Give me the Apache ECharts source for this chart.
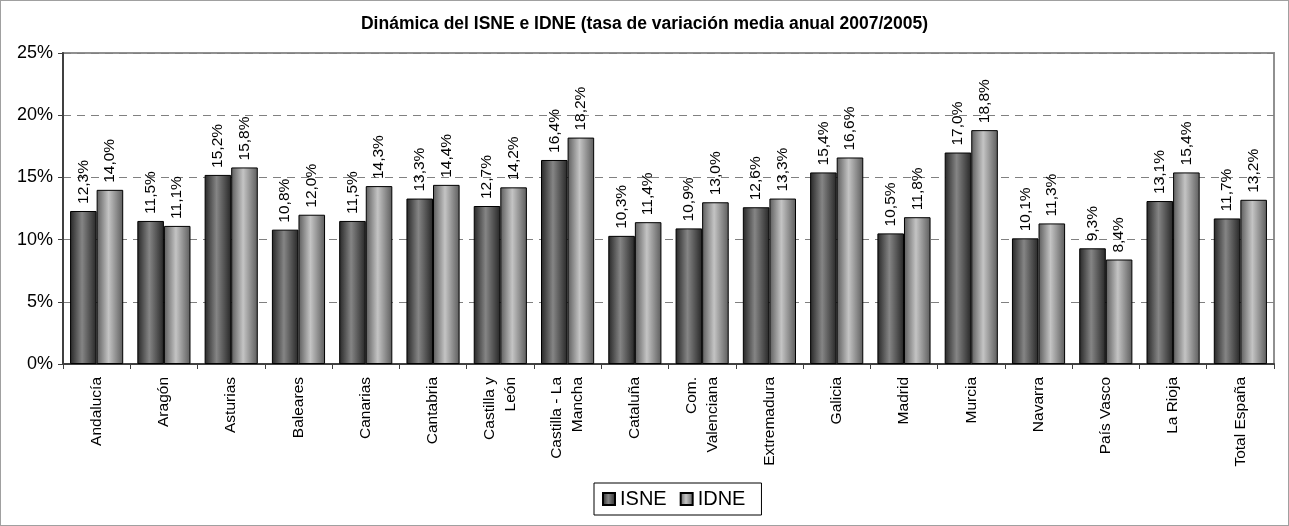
<!DOCTYPE html>
<html>
<head>
<meta charset="utf-8">
<script src="https://cdn.jsdelivr.net/npm/echarts@6/dist/echarts.min.js"></script>
<style>
html,body{margin:0;padding:0;background:#fff;}
#main{width:1287px;height:524px;border:1px solid #a0a0a0;}
</style>
</head>
<body>
<div id="main"></div>
<script>
var regiones = ["Andalucía","Aragón","Asturias","Baleares","Canarias","Cantabria","Castilla y\nLeón","Castilla - La\nMancha","Cataluña","Com.\nValenciana","Extremadura","Galicia","Madrid","Murcia","Navarra","País Vasco","La Rioja","Total España"];
var isne = [12.3,11.5,15.2,10.8,11.5,13.3,12.7,16.4,10.3,10.9,12.6,15.4,10.5,17.0,10.1,9.3,13.1,11.7];
var idne = [14.0,11.1,15.8,12.0,14.3,14.4,14.2,18.2,11.4,13.0,13.3,16.6,11.8,18.8,11.3,8.4,15.4,13.2];

var fuente = "Liberation Sans, Arial, sans-serif";

function gradiente(c0, c1, c2) {
    return new echarts.graphic.LinearGradient(0, 0, 1, 0, [
        {offset: 0, color: c0},
        {offset: 0.45, color: c1},
        {offset: 1, color: c2}
    ]);
}

function etiqueta(p) {
    return p.value.toFixed(1).replace(".", ",") + "%";
}

var rotulo = {
    show: true,
    position: "top",
    rotate: 90,
    align: "left",
    verticalAlign: "middle",
    distance: 7,
    fontSize: 15.5,
    color: "#000",
    fontFamily: fuente,
    formatter: etiqueta
};

var chart = echarts.init(document.getElementById("main"));
chart.setOption({
    animation: false,
    textStyle: {fontFamily: fuente},
    title: {
        text: "Dinámica del ISNE e IDNE (tasa de variación media anual 2007/2005)",
        left: "center",
        top: 9,
        textStyle: {fontFamily: fuente, fontSize: 17.5, fontWeight: "bold", color: "#000"}
    },
    legend: {
        bottom: 10,
        left: 593,
        data: ["ISNE", "IDNE"],
        icon: "rect",
        itemWidth: 12,
        itemHeight: 12,
        itemGap: 13,
        borderColor: "#000",
        borderWidth: 1,
        padding: [6, 16, 6, 8],
        textStyle: {fontFamily: fuente, fontSize: 20, color: "#000"}
    },
    grid: {
        left: 62,
        right: 14,
        top: 52,
        bottom: 161,
        show: true,
        borderColor: "#909090",
        borderWidth: 2
    },
    xAxis: {
        type: "category",
        data: regiones,
        axisLine: {lineStyle: {color: "#404040", width: 2}},
        axisTick: {show: true, length: 5, lineStyle: {color: "#404040"}},
        axisLabel: {
            interval: 0,
            rotate: 90,
            margin: 13,
            fontSize: 15.5,
            lineHeight: 21,
            color: "#000",
            fontFamily: fuente
        }
    },
    yAxis: {
        type: "value",
        min: 0,
        max: 25,
        interval: 5,
        axisLine: {show: true, lineStyle: {color: "#404040", width: 2}},
        axisTick: {show: true, length: 5, lineStyle: {color: "#404040"}},
        axisLabel: {formatter: "{value}%", fontSize: 18, color: "#000", margin: 10, fontFamily: fuente},
        splitLine: {lineStyle: {color: "#808080", type: [8, 6], width: 1}}
    },
    series: [
        {
            name: "ISNE",
            type: "bar",
            data: isne,
            barGap: "0%",
            barCategoryGap: "21%",
            itemStyle: {
                color: gradiente("#262626", "#858585", "#262626"),
                borderColor: "#000",
                borderWidth: 1
            },
            label: rotulo
        },
        {
            name: "IDNE",
            type: "bar",
            data: idne,
            itemStyle: {
                color: gradiente("#5c5c5c", "#c4c4c4", "#5c5c5c"),
                borderColor: "#000",
                borderWidth: 1
            },
            label: rotulo
        }
    ]
});
</script>
</body>
</html>
